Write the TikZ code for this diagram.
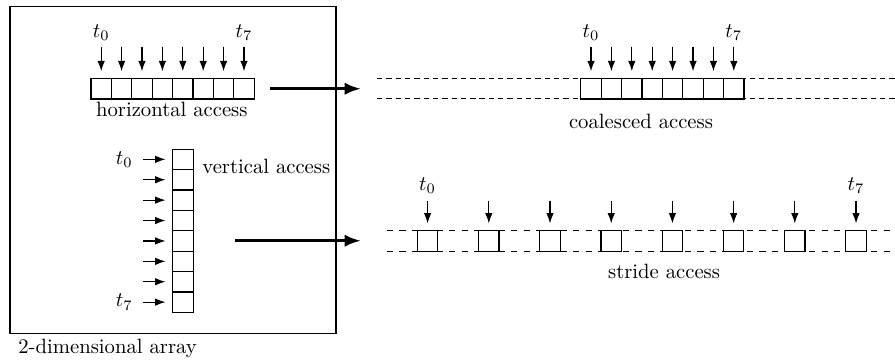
\documentclass[tikz,border=0pt]{standalone}
\usepackage{tikz}
\usetikzlibrary{arrows.meta}
\tikzset{
	cell/.style={rectangle,draw=black,fill=white,line width=0.6pt,inner sep=0pt,minimum size=0.3465cm},
	thread/.style={line width=0.6pt,shorten >=3.2pt,-{Latex[length=5pt,width=3.6pt]}},
	tape/.style={line width=0.6pt,dash pattern=on 2.6pt off 1.9pt},
	stridetape/.style={line width=0.6pt,dash pattern=on 3pt off 3pt},
	move/.style={ultra thick,-{Latex[length=8pt,width=6pt]}},
	labl/.style={anchor=base,inner sep=0pt},
}

\begin{document}
\begin{tikzpicture}[x=0.3465cm,y=0.3465cm]
\useasboundingbox (0,0) rectangle (43.87,17.75);

% the array
\node (arr) at (8.48,9.435) [draw,line width=0.6pt,minimum width=5.537cm,minimum height=5.554cm,inner sep=0pt] {};
\node (arrlab) at (0.88,0.44) [anchor=base west,inner sep=0pt] {2-dimensional array};

% horizontal access
\foreach \i in {0,...,7} {
  \node (h\i) at (4.96+\i,13.40) [cell] {};
  \coordinate (ht\i) at (4.96+\i,15.46);
  \draw[thread] (ht\i) -- (h\i);
}
\node (lh0) at (4.96,15.92) [labl] {$t_0$};
\node (lh7) at (11.96,15.92) [labl] {$t_7$};
\node (hlab) at (8.42,12.02) [labl] {horizontal access};

% vertical access
\foreach \i in {0,...,7} {
  \node (v\i) at (8.97,9.94-\i) [cell] {};
  \coordinate (vt\i) at (7.01,9.94-\i);
  \draw[thread] (vt\i) -- (v\i);
}
\node (lv0) at (vt0) [left=1.5pt] {$t_0$};
\node (lv7) at (vt7) [left=1.5pt] {$t_7$};
\node (vlab) at (9.90,9.26) [anchor=base west,inner sep=0pt] {vertical access};

% coalesced access
\coordinate (ctl) at (18.48,13.90);
\coordinate (ctr) at (43.87,13.90);
\coordinate (cbl) at (18.48,12.91);
\coordinate (cbr) at (43.87,12.91);
\draw[tape] (ctl) -- (ctr);
\draw[tape] (cbl) -- (cbr);
\foreach \i in {0,...,7} {
  \node (c\i) at (28.97+\i,13.40) [cell] {};
  \coordinate (ct\i) at (28.97+\i,15.46);
  \draw[thread] (ct\i) -- (c\i);
}
\node (lc0) at (28.97,15.92) [labl] {$t_0$};
\node (lc7) at (35.97,15.92) [labl] {$t_7$};
\node (clab) at (31.42,11.46) [labl] {coalesced access};

% stride access
\coordinate (stl) at (18.97,6.44);
\coordinate (str) at (43.87,6.44);
\coordinate (sbl) at (18.97,5.44);
\coordinate (sbr) at (43.87,5.44);
\draw[stridetape] (stl) -- (str);
\draw[stridetape] (sbl) -- (sbr);
\foreach \i in {0,...,7} {
  \node (s\i) at (20.96+3*\i,5.94) [cell] {};
  \coordinate (st\i) at (20.96+3*\i,7.91);
  \draw[thread] (st\i) -- (s\i);
}
\node (ls0) at (20.96,8.43) [labl] {$t_0$};
\node (ls7) at (41.96,8.43) [labl] {$t_7$};
\node (slab) at (32.55,4.12) [labl] {stride access};

% big arrows
\coordinate (hout) at (13.24,13.40);
\coordinate (cin) at (17.70,13.40);
\coordinate (vout) at (11.52,5.95);
\coordinate (sin) at (17.70,5.95);
\draw[move] (hout) -- (cin);
\draw[move] (vout) -- (sin);
\end{tikzpicture}
\end{document}
